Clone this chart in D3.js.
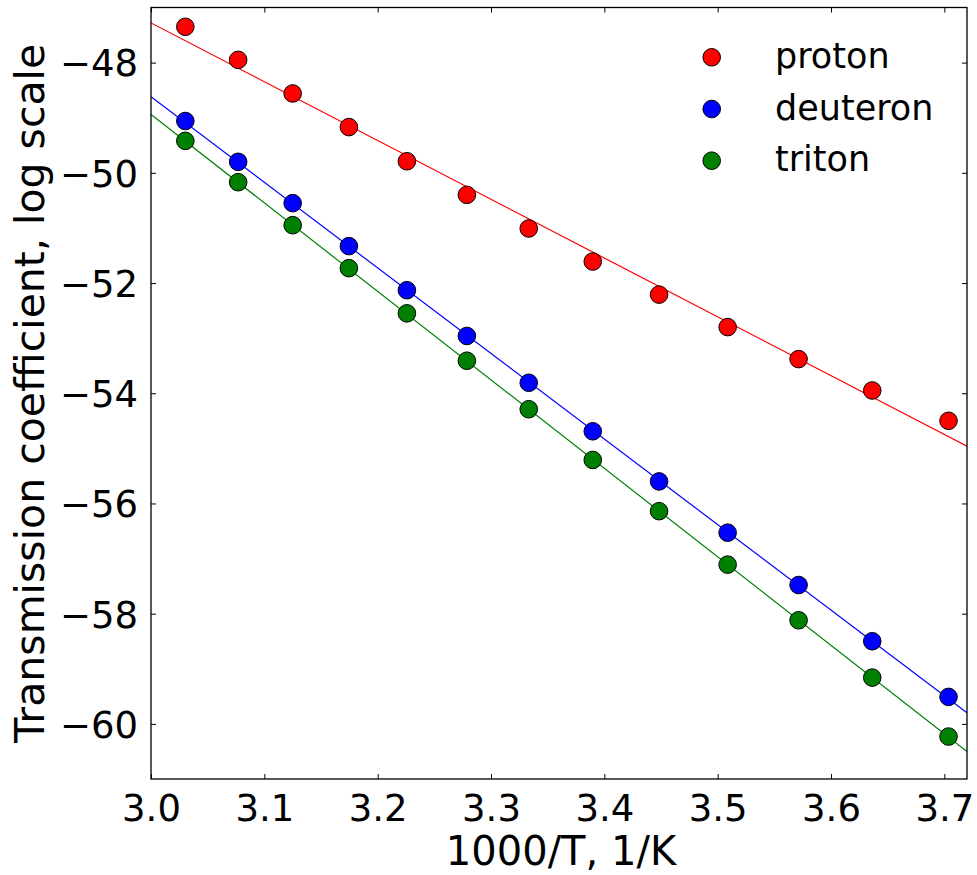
<!DOCTYPE html>
<html>
<head>
<meta charset="utf-8">
<script src="https://cdn.jsdelivr.net/npm/d3@7"></script>
<style>
  html, body { margin: 0; padding: 0; background: #fff; }
  svg { display: block; }
  text { font-family: "DejaVu Sans", sans-serif; fill: #000; }
</style>
</head>
<body>
<script>
// ---- data ----
const xValues = [3.0303, 3.0769, 3.1250, 3.1746, 3.2258, 3.2787, 3.3333, 3.3898, 3.4483, 3.5088, 3.5714, 3.6364, 3.7037];
const proton   = [-47.35, -47.95, -48.56, -49.17, -49.79, -50.40, -51.01, -51.61, -52.21, -52.80, -53.38, -53.95, -54.50];
const deuteron = [-49.06, -49.80, -50.55, -51.33, -52.13, -52.96, -53.81, -54.69, -55.60, -56.53, -57.48, -58.50, -59.51];
const triton   = [-49.42, -50.17, -50.95, -51.73, -52.55, -53.41, -54.29, -55.21, -56.14, -57.11, -58.12, -59.16, -60.23];
const fitX        = [3.0, 3.72];
const protonFit   = [-47.28, -54.96];
const deuteronFit = [-48.62, -59.80];
const tritonFit   = [-48.94, -60.50];
const seriesNames = ["proton", "deuteron", "triton"];
const seriesColors = ["#ff0000", "#0000ff", "#008000"];
const xTicks = [3.0, 3.1, 3.2, 3.3, 3.4, 3.5, 3.6, 3.7];
const yTicks = [-60, -58, -56, -54, -52, -50, -48];
const xDomain = [3.0, 3.72];
const yDomain = [-61, -47];
const xLabel = "1000/T, 1/K";
const yLabel = "Transmission coefficient, log scale";

// ---- layout ----
const W = 977, H = 875;
const m = { left: 151, top: 7.5, right: 10, bottom: 96 };
const pw = W - m.left - m.right, ph = H - m.top - m.bottom;

const svg = d3.select("body").append("svg").attr("width", W).attr("height", H);
const g = svg.append("g").attr("transform", `translate(${m.left},${m.top})`);

const x = d3.scaleLinear().domain(xDomain).range([0, pw]);
const y = d3.scaleLinear().domain(yDomain).range([ph, 0]);

svg.append("defs").append("clipPath").attr("id", "clip")
  .append("rect").attr("width", pw).attr("height", ph);

const series = [
  { name: seriesNames[0], color: seriesColors[0], ys: proton,   fit: protonFit },
  { name: seriesNames[1], color: seriesColors[1], ys: deuteron, fit: deuteronFit },
  { name: seriesNames[2], color: seriesColors[2], ys: triton,   fit: tritonFit }
];

const tickFmt = d => d3.format(".0f")(d).replace("-", "\u2212");

// axes: ticks inward on all sides
const tickLen = 5;
const fontTick = 37;
const axB = g.append("g").attr("transform", `translate(0,${ph})`)
  .call(d3.axisBottom(x).tickValues(xTicks).tickSize(-tickLen).tickPadding(0).tickFormat(d3.format(".1f")));
const axT = g.append("g")
  .call(d3.axisTop(x).tickValues(xTicks).tickSize(-tickLen).tickFormat(""));
const axL = g.append("g")
  .call(d3.axisLeft(y).tickValues(yTicks).tickSize(-tickLen).tickPadding(0).tickFormat(tickFmt));
const axR = g.append("g").attr("transform", `translate(${pw},0)`)
  .call(d3.axisRight(y).tickValues(yTicks).tickSize(-tickLen).tickFormat(""));

[axB, axT, axL, axR].forEach(a => {
  a.select(".domain").remove();
  a.selectAll(".tick line").attr("stroke", "#000").attr("stroke-width", 1);
});
axB.selectAll(".tick text").attr("y", 42).attr("dy", 0)
  .style("font-size", fontTick + "px").style("font-family", "DejaVu Sans");
axL.selectAll(".tick text").attr("x", -13).attr("dy", "0.36em")
  .style("font-size", fontTick + "px").style("font-family", "DejaVu Sans");

// fit lines
const plotArea = g.append("g").attr("clip-path", "url(#clip)");
const line = d3.line().x(d => x(d[0])).y(d => y(d[1]));
series.forEach(s => {
  plotArea.append("path")
    .datum(fitX.map((xv, i) => [xv, s.fit[i]]))
    .attr("d", line).attr("fill", "none")
    .attr("stroke", s.color).attr("stroke-width", 1.2);
});

// points
series.forEach(s => {
  plotArea.selectAll(null).data(xValues.map((xv, i) => [xv, s.ys[i]]))
    .enter().append("circle")
    .attr("cx", d => x(d[0])).attr("cy", d => y(d[1])).attr("r", 8.8)
    .attr("fill", s.color).attr("stroke", "#000").attr("stroke-width", 1);
});

// frame
g.append("rect").attr("width", pw).attr("height", ph)
  .attr("fill", "none").attr("stroke", "#000").attr("stroke-width", 1.3);

// axis labels
svg.append("text").attr("x", 561).attr("y", 865)
  .attr("text-anchor", "middle").style("font-size", "40px").text(xLabel);
svg.append("text")
  .attr("transform", `translate(44,${m.top + ph / 2}) rotate(-90)`)
  .attr("text-anchor", "middle").style("font-size", "41px").text(yLabel);

// legend
const leg = svg.append("g");
series.forEach((s, i) => {
  const ly = 57.3 + i * 51.7;
  leg.append("circle").attr("cx", 711.7).attr("cy", ly).attr("r", 8.8)
    .attr("fill", s.color).attr("stroke", "#000").attr("stroke-width", 1);
  leg.append("text").attr("x", 775).attr("y", ly + 10.5)
    .style("font-size", "35px").text(s.name);
});
</script>
</body>
</html>
